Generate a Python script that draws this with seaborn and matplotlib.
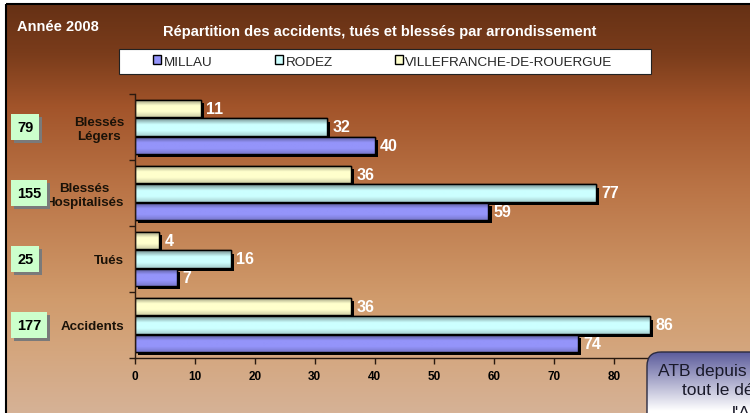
import numpy as np
import pandas as pd
import matplotlib
matplotlib.use('Agg')
import matplotlib.pyplot as plt
import matplotlib.transforms as mtransforms
from matplotlib import patheffects as pe
from matplotlib.patches import Rectangle, FancyBboxPatch
from matplotlib.colors import to_rgb
import seaborn as sns

# Données
categories = ['Blessés\nLégers', 'Blessés\nHospitalisés', 'Tués', 'Accidents']
millau = [40, 59, 7, 74]
rodez = [32, 77, 16, 86]
villefranche = [11, 36, 4, 36]
totaux = ['79', '155', '25', '177']
series = ['MILLAU', 'RODEZ', 'VILLEFRANCHE-DE-ROUERGUE']
couleurs = ['#9494fa', '#ccffff', '#ffffcc']

titre = 'Répartition des accidents, tués et blessés par arrondissement'
annee = 'Année 2008'

df = pd.DataFrame({
    'categorie': categories * 3,
    'serie': [series[0]] * 4 + [series[1]] * 4 + [series[2]] * 4,
    'valeur': millau + rodez + villefranche,
})
palette = dict(zip(series, couleurs))

sns.set_theme(style='white')
plt.rcParams['font.family'] = ['Liberation Sans', 'DejaVu Sans']

W, H = 750, 414
fig = plt.figure(figsize=(7.5, 4.14), dpi=100, facecolor='white')

# Fond en dégradé brun
bg = fig.add_axes([0, 0, 1, 1], zorder=-10)
stops_y = [0, 0.12, 0.25, 0.45, 0.72, 0.85, 1.0]
stops_c = np.array([(102, 49, 21), (122, 60, 27), (162, 84, 42), (186, 116, 70),
                    (208, 155, 108), (212, 166, 126), (214, 178, 150)]) / 255
t = np.linspace(0, 1, 300)
grad = np.stack([np.interp(t, stops_y, stops_c[:, k]) for k in range(3)], axis=-1)[:, None, :]
bg.imshow(grad, extent=(6, W, H, 5), aspect='auto', interpolation='bilinear')
bg.add_patch(Rectangle((6, 5), W, H, fill=False, ec='black', lw=1.5))
bg.set_xlim(0, W)
bg.set_ylim(H, 0)
bg.axis('off')

# Graphique principal
ax = fig.add_axes([135 / W, 1 - 359 / H, 539 / W, 264 / H])
ax.set_facecolor('none')
sns.barplot(data=df, y='categorie', x='valeur', hue='serie',
            order=categories, hue_order=series[::-1], orient='h',
            palette=palette, saturation=1, width=0.84, gap=0.08,
            edgecolor='black', linewidth=1, legend=False, ax=ax)

barres = list(ax.patches)
prof_t = np.linspace(0, 1, 40)
profil = np.interp(prof_t, [0, 0.35, 0.7, 1], [0.55, 1.0, 1.0, 0.82])
for p in barres:
    p.set_path_effects([pe.SimplePatchShadow(offset=(2.3, -2.3), shadow_rgbFace='black', alpha=1),
                        pe.Normal()])
    x0, y0, w, h = p.get_x(), p.get_y(), p.get_width(), p.get_height()
    base = np.array(to_rgb(p.get_facecolor()))
    img = np.clip(profil[:, None, None] * base[None, None, :], 0, 1)
    im = ax.imshow(img, extent=(x0, x0 + w, y0 + h, y0), aspect='auto',
                   interpolation='bilinear', zorder=p.get_zorder() + 0.1)
    im.set_clip_path(p)
    ax.add_patch(Rectangle((x0, y0), w, h, fill=False, ec='black', lw=1,
                           zorder=p.get_zorder() + 0.2))

for c in ax.containers:
    ax.bar_label(c, padding=4, color='white', fontweight='bold', fontsize=11.5)

ax.set_xlim(0, 90)
ax.set_ylim(3.5, -0.5)
ax.set_xticks(range(0, 81, 10))
ax.set_yticks([-0.5, 0.5, 1.5, 2.5, 3.5], [''] * 5)
ax.set_yticks(range(4), categories, minor=True)
ax.tick_params(axis='y', which='major', length=4, width=1, color='#2a1a10', direction='out', left=True)
ax.tick_params(axis='y', which='minor', length=0, pad=8, labelsize=9.6, labelcolor='#1a1208')
ax.tick_params(axis='x', length=4, width=1, color='#2a1a10', direction='out', bottom=True,
               pad=5, labelsize=8.5, labelcolor='black')
for lbl in ax.get_yticklabels(minor=True):
    lbl.set_fontweight('bold')
    lbl.set_multialignment('center')
for lbl in ax.get_xticklabels():
    lbl.set_fontweight('bold')
ax.set_xlabel('')
ax.set_ylabel('')
sns.despine(ax=ax, top=True, right=True)
for s in ['left', 'bottom']:
    ax.spines[s].set_color('#2a1a10')
    ax.spines[s].set_linewidth(1)

# Cases des totaux
trans = mtransforms.blended_transform_factory(fig.transFigure, ax.transData)
for i, tot in enumerate(totaux):
    txt = ax.text(17 / W, i, tot, transform=trans, ha='left', va='center',
                  fontsize=10.5, fontweight='bold', color='black', zorder=20, clip_on=False,
                  bbox=dict(boxstyle='square,pad=0.4', fc='#ccffcc', ec='none'))
    txt.get_bbox_patch().set_path_effects([
        pe.SimplePatchShadow(offset=(2.3, -2.3), shadow_rgbFace='#7a7a7a', alpha=1), pe.Normal()])

# Calque supérieur : titre, légende, encadré
top = fig.add_axes([0, 0, 1, 1], zorder=10)
top.set_facecolor('none')
top.set_xlim(0, W)
top.set_ylim(H, 0)
top.axis('off')

top.text(17, 27, annee, ha='left', va='center', color='white', fontsize=10.5, fontweight='bold')
top.text(380, 32, titre, ha='center', va='center', color='white', fontsize=10.5, fontweight='bold')

top.add_patch(Rectangle((119, 50), 532, 25, fc='white', ec='#222222', lw=0.8, zorder=1))
handles = [Rectangle((0, 0), 1, 1, fc=c, ec='black', lw=1) for c in couleurs]
top.legend(handles, series, ncol=3, loc='center', frameon=False,
           bbox_to_anchor=(383 / W, 1 - 62.5 / H), bbox_transform=fig.transFigure,
           fontsize=9.7, handlelength=0.6, handleheight=0.6, handletextpad=0.2,
           columnspacing=4.6, borderpad=0)

boite = FancyBboxPatch((647, 353), 140, 100, boxstyle='round,pad=0,rounding_size=14',
                       fc='none', ec='#2a2a40', lw=1, zorder=3)
top.add_patch(boite)
tt = np.linspace(0, 1, 100)
mix = np.clip(tt * 1.7, 0, 1)[:, None]
c1, c2 = np.array(to_rgb('#5c5c9c')), np.array([1.0, 1.0, 1.0])
gimg = (c1[None, :] * (1 - mix) + c2[None, :] * mix)[:, None, :]
gi = top.imshow(gimg, extent=(647, 787, 453, 353), aspect='auto', interpolation='bilinear', zorder=2)
gi.set_clip_path(boite)
top.set_xlim(0, W)
top.set_ylim(H, 0)
top.text(658, 372, 'ATB depuis', ha='left', va='center', fontsize=12.5, color='#1a1a2a', zorder=4)
top.text(682, 391, 'tout le dé', ha='left', va='center', fontsize=12.5, color='#1a1a2a', zorder=4)
top.text(732, 406, "l'A", ha='left', va='top', fontsize=12.5, color='#1a1a2a', zorder=4)

fig.savefig('out.png', dpi=100, facecolor='white')
